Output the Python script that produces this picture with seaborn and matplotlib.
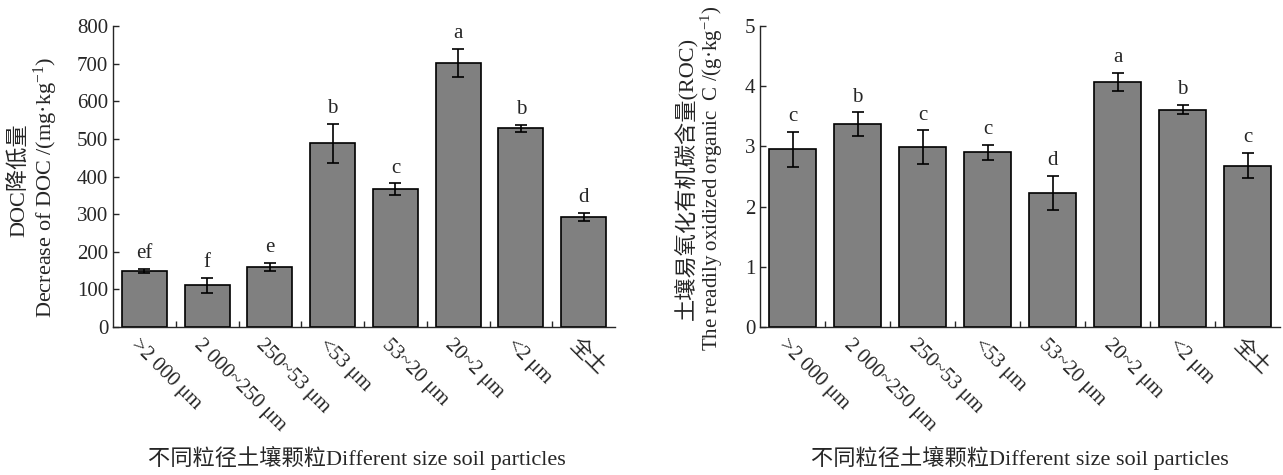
import numpy as np
import pandas as pd
import seaborn as sns
import matplotlib
matplotlib.use('Agg')
import matplotlib.pyplot as plt
import matplotlib.transforms as mtrans
from matplotlib.ticker import FixedLocator

particles = ['>2 000 μm', '2 000~250 μm', '250~53 μm', '<53 μm',
             '53~20 μm', '20~2 μm', '<2 μm', '全土']

doc_mean = [149, 111, 159, 488, 367, 702, 528, 293]
doc_err = [6, 20, 11, 52, 15, 38, 10, 10]
doc_sig = ['ef', 'f', 'e', 'b', 'c', 'a', 'b', 'd']

roc_mean = [2.95, 3.37, 2.99, 2.90, 2.23, 4.07, 3.61, 2.68]
roc_err = [0.29, 0.20, 0.28, 0.13, 0.28, 0.15, 0.08, 0.21]
roc_sig = ['c', 'b', 'c', 'c', 'd', 'a', 'b', 'c']

sns.set_style('ticks')
plt.rcParams['font.family'] = ['Liberation Serif', 'Noto Sans CJK SC', 'DejaVu Sans']
plt.rcParams['mathtext.fontset'] = 'custom'
plt.rcParams['mathtext.rm'] = 'Liberation Serif'
plt.rcParams['mathtext.it'] = 'Liberation Serif:italic'

W, H = 1283, 475
fig = plt.figure(figsize=(W / 100, H / 100), dpi=100)


def px_axes(x0, x1, ytop, ybot):
    return fig.add_axes([x0 / W, 1 - ybot / H, (x1 - x0) / W, (ybot - ytop) / H])


ax1 = px_axes(113, 615, 26, 327)
ax2 = px_axes(760, 1280, 26, 327)


def draw(ax, mean, err, sig, ylim, yticks):
    df = pd.DataFrame({'particle': particles, 'value': mean})
    sns.barplot(data=df, x='particle', y='value', color='#808080', saturation=1,
                edgecolor='black', linewidth=1.2, width=0.72, errorbar=None, ax=ax)
    x = np.arange(len(mean))
    ax.errorbar(x, mean, yerr=err, fmt='none', ecolor='black', elinewidth=1.2,
                capsize=4, capthick=1.2)
    for xi, m, e, s in zip(x, mean, err, sig):
        ax.annotate(s, (xi, m + e), xytext=(0, 4), textcoords='offset points',
                    ha='center', va='bottom', fontsize=15)
    ax.set_xlim(-0.5, len(mean) - 0.5)
    ax.set_ylim(*ylim)
    ax.set_yticks(yticks)
    ax.xaxis.set_minor_locator(FixedLocator(np.arange(0.5, len(mean) - 0.5, 1)))
    ax.tick_params(axis='both', which='both', direction='in', length=4, width=1,
                   labelsize=15)
    ax.tick_params(axis='x', which='major', pad=6)
    ax.set_xticks(x)
    ax.set_xticklabels(particles, rotation=-45, ha='left', va='top',
                       rotation_mode='anchor')
    for lab in ax.get_xticklabels():
        lab.set_transform(lab.get_transform() +
                          mtrans.ScaledTranslation(-4 / 100, 0, fig.dpi_scale_trans))
    ax.set_xlabel('')
    ax.set_ylabel('')
    sns.despine(ax=ax)
    for sp in ['left', 'bottom']:
        ax.spines[sp].set_linewidth(1)


draw(ax1, doc_mean, doc_err, doc_sig, (0, 800), np.arange(0, 801, 100))
draw(ax2, roc_mean, roc_err, roc_sig, (0, 5), np.arange(0, 6, 1))

for cx in (357, 1020):
    fig.text(cx / W, 1 - 458 / H, '不同粒径土壤颗粒Different size soil particles',
             ha='center', va='center', fontsize=16)

fig.text(20 / W, 1 - 180 / H, 'DOC降低量', rotation=90, ha='center', va='center', fontsize=16)
fig.text(46 / W, 1 - 187 / H, 'Decrease of DOC /(mg·kg$^{-1}$)', rotation=90,
         ha='center', va='center', fontsize=16)
fig.text(686 / W, 1 - 178 / H, '土壤易氧化有机碳含量(ROC)', rotation=90, ha='center',
         va='center', fontsize=16)
roc_lab = fig.text(712 / W, 1 - 178 / H, 'The readily oxidized organic  C /(g·kg$^{-1}$)',
                   rotation=90, ha='center', va='center', fontsize=16)

# fit the long label to the span it has in the reference (~345 px)
renderer = fig.canvas.get_renderer()
h = roc_lab.get_window_extent(renderer).height
roc_lab.set_fontsize(16 * 345 / h)

fig.savefig('out.png', dpi=100)
